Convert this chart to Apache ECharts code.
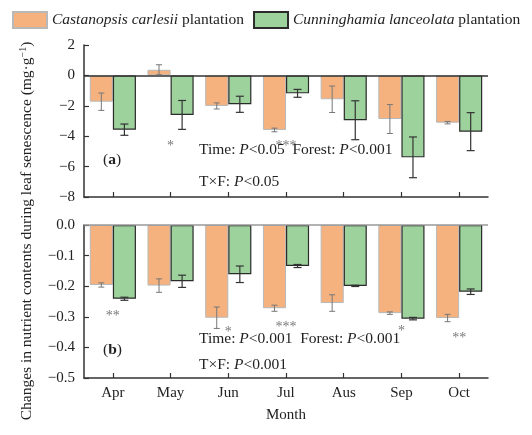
<!DOCTYPE html>
<html><head><meta charset="utf-8">
<script src="https://cdn.jsdelivr.net/npm/echarts@6/dist/echarts.min.js"></script>
<style>html,body{margin:0;padding:0;background:#fff}#c{width:532px;height:435px}</style>
</head><body><div id="c"></div>
<script>
const months = ['Apr','May','Jun','Jul','Aus','Sep','Oct'];
const yTicksA = [2, 0, -2, -4, -6, -8];
const yTicksB = [0.0, -0.1, -0.2, -0.3, -0.4, -0.5];
// panel (a)
const aCastanopsis    = [-1.73, 0.37, -2.01, -3.59, -1.57, -2.87, -3.11];
const aCastanopsisErr = [0.57, 0.33, 0.20, 0.12, 0.87, 0.95, 0.08];
const aCunninghamia    = [-3.57, -2.60, -1.90, -1.18, -2.95, -5.39, -3.70];
const aCunninghamiaErr = [0.37, 0.95, 0.53, 0.26, 1.28, 1.34, 1.25];
// panel (b)
const bCastanopsis    = [-0.196, -0.198, -0.303, -0.272, -0.255, -0.288, -0.304];
const bCastanopsisErr = [0.007, 0.022, 0.035, 0.010, 0.027, 0.004, 0.012];
const bCunninghamia    = [-0.241, -0.184, -0.161, -0.134, -0.199, -0.306, -0.218];
const bCunninghamiaErr = [0.005, 0.020, 0.027, 0.005, 0.002, 0.004, 0.009];
// significance marks: [month index, text, y position]
const aSig = [[1, '*', -4.45], [3, '***', -4.45]];
const bSig = [[0, '**', -0.288], [2, '*', -0.34], [3, '***', -0.324], [5, '*', -0.337], [6, '**', -0.36]];

const FONT = '"Liberation Serif","Times New Roman",serif';
const FS = 15.5, FT = 15;
const ORANGE = '#F5B27F', GREEN = '#9DD29D';
const NAME_C = 'Castanopsis carlesii plantation';
const NAME_G = 'Cunninghamia lanceolata plantation';

const chart = echarts.init(document.getElementById('c'), null, {renderer: 'canvas'});

function fmt(v, d) { return (d ? v.toFixed(d) : String(v)).replace('-', '\u2212'); }

function errSeries(name, vals, errs, sign, xi, yi, color, lw, cap) {
  return {
    type: 'custom', name: name, xAxisIndex: xi, yAxisIndex: yi, z: 5, silent: true,
    data: vals.map((v, i) => [i, v, errs[i]]),
    renderItem: function (params, api) {
      const x = api.value(0), v = api.value(1), e = api.value(2);
      const band = api.size([1, 0])[0];
      const off = sign * 0.2 * band;
      const p1 = api.coord([x, v + e]), p2 = api.coord([x, v - e]);
      const cx = p1[0] + off;
      const st = {stroke: color, lineWidth: lw};
      return {type: 'group', children: [
        {type: 'line', shape: {x1: cx, y1: p1[1], x2: cx, y2: p2[1]}, style: st},
        {type: 'line', shape: {x1: cx - cap, y1: p1[1], x2: cx + cap, y2: p1[1]}, style: st},
        {type: 'line', shape: {x1: cx - cap, y1: p2[1], x2: cx + cap, y2: p2[1]}, style: st}
      ]};
    }
  };
}
function sigSeries(list, xi, yi) {
  return {
    type: 'scatter', xAxisIndex: xi, yAxisIndex: yi, symbolSize: 0, silent: true, z: 6,
    data: list.map(s => ({value: [s[0], s[2]], label: {formatter: s[1]}})),
    label: {show: true, position: 'inside', offset: [0, 3], color: '#555', fontSize: 14, fontFamily: FONT}
  };
}
function barSeries(name, vals, xi, yi, color, border, bw, mark) {
  const s = {
    type: 'bar', name: name, xAxisIndex: xi, yAxisIndex: yi, data: vals,
    barGap: '0%', barCategoryGap: '20%',
    itemStyle: {color: color, borderColor: border, borderWidth: bw}
  };
  if (mark) s.markLine = mark;
  return s;
}
const axisLine = {show: true, lineStyle: {color: '#333', width: 1.5}};
function xAx(gi, showLabel) {
  return {
    type: 'category', gridIndex: gi, data: months, position: 'bottom',
    axisLine: Object.assign({onZero: false}, axisLine),
    axisTick: {show: true, inside: true, alignWithLabel: true, length: 5, lineStyle: {color: '#333', width: 1.2}},
    axisLabel: {show: showLabel, color: '#222', fontSize: FT, fontFamily: FONT, margin: 8},
    name: showLabel ? 'Month' : '', nameLocation: 'middle', nameGap: 30,
    nameTextStyle: {color: '#222', fontSize: FT, fontFamily: FONT}
  };
}
function yAx(gi, ticks, dec) {
  const mn = Math.min.apply(null, ticks), mx = Math.max.apply(null, ticks);
  return {
    type: 'value', gridIndex: gi, min: mn, max: mx, interval: Math.abs(ticks[0] - ticks[1]),
    axisLine: axisLine, splitLine: {show: false},
    axisTick: {show: true, inside: true, length: 5, lineStyle: {color: '#333', width: 1.2}},
    axisLabel: {color: '#222', fontSize: FT, fontFamily: FONT, margin: 9, formatter: v => fmt(v, dec)}
  };
}
const zeroA = {symbol: 'none', silent: true, label: {show: false}, data: [{yAxis: 0}], lineStyle: {color: '#333', width: 1.5, type: 'solid'}};
const zeroB = {symbol: 'none', silent: true, label: {show: false}, data: [{yAxis: 0}], lineStyle: {color: '#999', width: 1.5, type: 'solid'}};

const T = (text, x, y, extra) => ({type: 'text', x: x, y: y, z: 10,
  style: Object.assign({text: text, fontFamily: FONT, fontSize: FS, fill: '#222', verticalAlign: 'middle',
    rich: {i: {fontStyle: 'italic', fontFamily: FONT, fontSize: FS, fill: '#222'},
           b: {fontWeight: 'bold', fontFamily: FONT, fontSize: FS, fill: '#222'}}}, extra || {})});

chart.setOption({
  animation: false,
  textStyle: {fontFamily: FONT},
  legend: {
    left: 12, top: 11, padding: 0, itemWidth: 34, itemHeight: 16, itemGap: 9, icon: 'rect',
    data: [NAME_C, NAME_G],
    formatter: function (n) { const p = n.split(' '); return '{i|' + p[0] + ' ' + p[1] + '} ' + p[2]; },
    textStyle: {fontFamily: FONT, fontSize: FS, color: '#222',
      rich: {i: {fontStyle: 'italic', fontFamily: FONT, fontSize: FS, color: '#222'}}}
  },
  grid: [
    {left: 84, right: 44, top: 45, height: 152},
    {left: 84, right: 44, top: 225, height: 153}
  ],
  xAxis: [xAx(0, false), xAx(1, true)],
  yAxis: [yAx(0, yTicksA, 0), yAx(1, yTicksB, 1)],
  series: [
    barSeries(NAME_C, aCastanopsis, 0, 0, ORANGE, '#b8b8b8', 1, zeroA),
    barSeries(NAME_G, aCunninghamia, 0, 0, GREEN, '#2b2b2b', 1.2),
    barSeries(NAME_C, bCastanopsis, 1, 1, ORANGE, '#b8b8b8', 1, zeroB),
    barSeries(NAME_G, bCunninghamia, 1, 1, GREEN, '#2b2b2b', 1.2),
    errSeries('eac', aCastanopsis, aCastanopsisErr, -1, 0, 0, '#777', 1, 3),
    errSeries('eag', aCunninghamia, aCunninghamiaErr, 1, 0, 0, '#333', 1.2, 4),
    errSeries('ebc', bCastanopsis, bCastanopsisErr, -1, 1, 1, '#777', 1, 3),
    errSeries('ebg', bCunninghamia, bCunninghamiaErr, 1, 1, 1, '#333', 1.2, 4),
    sigSeries(aSig, 0, 0),
    sigSeries(bSig, 1, 1)
  ],
  graphic: [
    T('({b|a})', 103, 160),
    T('Time: {i|P}<0.05  Forest: {i|P}<0.001', 199, 150),
    T('T\u00d7F: {i|P}<0.05', 199, 182),
    T('({b|b})', 103, 350),
    T('Time: {i|P}<0.001  Forest: {i|P}<0.001', 199, 339),
    T('T\u00d7F: {i|P}<0.001', 199, 365),
    {type: 'text', x: 27, y: 231, rotation: Math.PI / 2, z: 10,
     style: {text: 'Changes in nutrient contents during leaf senescence (mg\u00b7g{s|\u22121})',
       fontFamily: FONT, fontSize: FS, fill: '#222', align: 'center', verticalAlign: 'middle',
       rich: {s: {fontSize: 10, fontFamily: FONT, fill: '#222', padding: [0, 0, 8, 0]}}}}
  ]
});
</script></body></html>
